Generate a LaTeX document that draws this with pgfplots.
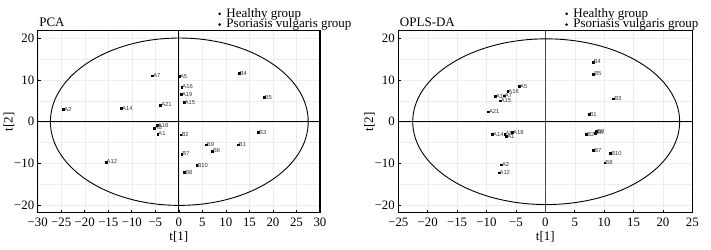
\documentclass[border=0pt]{standalone}
\usepackage{pgfplots}
\pgfplotsset{compat=1.18}
\usepackage{fontspec}
\setmainfont{Liberation Serif}
\newfontfamily\lsans{Liberation Sans}

\pgfplotstableread{
x y lab
-24.5 2.9 A2
-12.2 3.2 A14
-5.6 11.0 A7
-3.9 4.0 A21
-4.6 -0.9 A18
-5.3 -1.5 A8
-4.5 -2.9 A1
-15.5 -9.6 A12
0.1 10.9 A5
0.6 8.3 A16
0.5 6.5 A19
1.1 4.6 A15
}\pcaA
\pgfplotstableread{
x y lab
12.8 11.6 B4
18.1 5.8 B5
16.9 -2.5 B3
0.4 -3.1 B2
5.8 -5.5 B9
12.6 -5.5 B1
7.1 -7.0 B6
0.6 -7.7 B7
3.8 -10.4 B10
1.2 -12.1 B8
}\pcaB
\pgfplotstableread{
x y lab
-4.4 8.5 A5
-6.4 7.3 A16
-8.5 6.0 A19
-7.0 6.2 A7
-7.7 5.0 A15
-9.7 2.4 A21
-9.0 -3.0 A14
-6.9 -2.9 A8
-6.6 -3.5 A1
-5.6 -2.6 A18
-7.5 -10.3 A2
-7.9 -12.2 A12
}\oplsA
\pgfplotstableread{
x y lab
8.1 14.3 B4
8.2 11.4 B5
11.6 5.5 B3
7.4 1.7 B1
7.0 -3.0 B2
8.7 -2.3 B9
8.5 -2.7 B6
8.2 -6.8 B7
11.1 -7.6 B10
10.1 -9.8 B8
}\oplsB

\pgfplotsset{
  myax/.style={
    scale only axis,
    anchor=south west,
    height=182pt,
    ymin=-21.75, ymax=21.75,
    ytick={-20,-10,0,10,20},
    yticklabels={−20,−10,0,10,20},
    minor ytick={-15,-5,5,15},
    grid=both,
    major grid style={black!7, line width=0.4pt},
    minor grid style={black!7, line width=0.4pt},
    tick align=inside,
    tick pos=left,
    major tick length=3pt,
    minor tick length=0pt,
    tick style={black, line width=0.6pt},
    axis line style={black, line width=1.1pt},
    tick label style={font=\fontsize{12.8}{13}\selectfont},
    label style={font=\fontsize{13}{14}\selectfont},
    xlabel={t[1]}, ylabel={t[2]},
    xlabel style={yshift=2pt},
    ylabel style={yshift=-7pt},
    xticklabel style={yshift=-2pt},
    title style={font=\fontsize{13}{14}\selectfont, anchor=base west, at={(0.005,1)}, inner sep=0pt, yshift=-2pt},
    legend style={draw=none, fill=none, anchor=north west, inner sep=0pt, outer sep=0pt,
      font=\fontsize{13}{13}\selectfont,
      nodes={inner sep=0pt, text height=8.6pt, text depth=2.1pt},
      row sep=0pt,
      /tikz/every odd column/.append style={column sep=5.5pt}},
    legend cell align=left,
    legend image code/.code={\fill[black] (0pt,0pt) circle (1.1pt);},
    lbl/.style={only marks, mark=square*, mark size=0.9pt, black,
      nodes near coords, point meta=explicit symbolic,
      every node near coord/.style={anchor=west, font=\lsans\fontsize{5.8}{6}\selectfont, text=black!80, inner sep=0.6pt}},
  }
}

\begin{document}
\begin{tikzpicture}
\path[use as bounding box] (0,0) rectangle (711pt,249pt);

\begin{axis}[myax,
  at={(37.7pt,36.3pt)},
  width=282.3pt,
  xmin=-30, xmax=30,
  xtick={-30,-25,...,30},
  xticklabels={−30,−25,−20,−15,−10,−5,0,5,10,15,20,25,30},
  title={PCA},
  legend style={at={(0.64,1.122)}},
]
\addplot[lbl] table[x=x, y=y, meta=lab] {\pcaA};
\addlegendentry{Healthy group}
\addplot[lbl] table[x=x, y=y, meta=lab] {\pcaB};
\addlegendentry{Psoriasis vulgaris group}
\draw[black, line width=1pt] (axis cs:0,-21.75) -- (axis cs:0,21.75);
\draw[black, line width=1pt] (axis cs:-30,0) -- (axis cs:30,0);
\draw[black, line width=0.9pt] (axis cs:0.1,0) ellipse [x radius=27.4, y radius=20];
\end{axis}

\begin{axis}[myax,
  at={(398.3pt,36.3pt)},
  width=294pt,
  xmin=-25, xmax=25,
  xtick={-25,-20,...,25},
  xticklabels={−25,−20,−15,−10,−5,0,5,10,15,20,25},
  title={OPLS-DA},
  legend style={at={(0.568,1.122)}},
]
\addplot[lbl] table[x=x, y=y, meta=lab] {\oplsA};
\addlegendentry{Healthy group}
\addplot[lbl] table[x=x, y=y, meta=lab] {\oplsB};
\addlegendentry{Psoriasis vulgaris group}
\draw[black!70, line width=1.1pt] (axis cs:0,-21.75) -- (axis cs:0,21.75);
\draw[black, line width=1pt] (axis cs:-25,0) -- (axis cs:25,0);
\draw[black, line width=0.9pt] (axis cs:0.15,0) ellipse [x radius=22.7, y radius=19.8];
\end{axis}
\end{tikzpicture}
\end{document}
